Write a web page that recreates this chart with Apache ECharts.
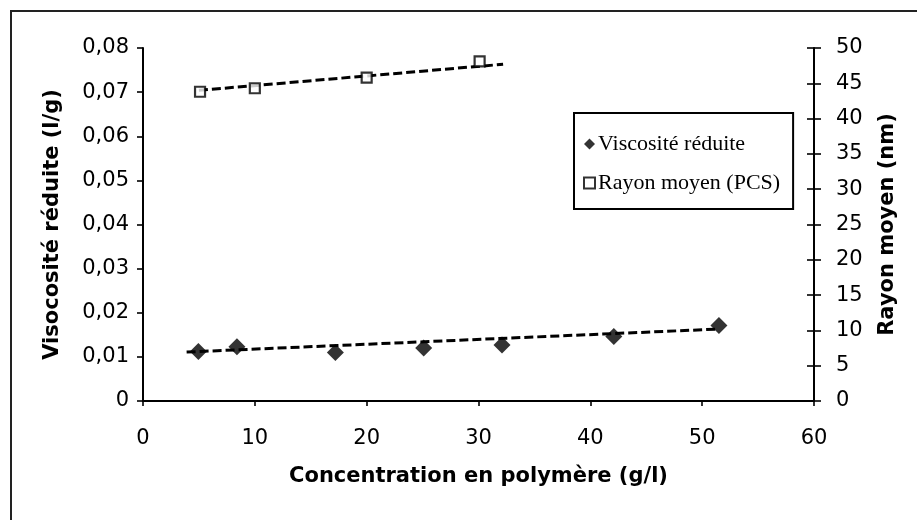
<!DOCTYPE html>
<html>
<head>
<meta charset="utf-8">
<script src="https://cdn.jsdelivr.net/npm/echarts@6/dist/echarts.min.js"></script>
<style>
  html, body { margin: 0; padding: 0; background: #fff; }
  #chart { width: 917px; height: 520px; }
</style>
</head>
<body>
<div id="chart"></div>
<script>
// Reduced viscosity vs polymer concentration
const concVisc = [4.95, 8.4, 17.2, 25.1, 32.1, 42.1, 51.5];
const viscRed  = [0.0112, 0.0123, 0.0110, 0.0120, 0.0127, 0.0146, 0.0171];

// Mean radius (PCS) vs polymer concentration
const concRayon = [5.1, 10.0, 20.0, 30.1];
const rayon     = [43.8, 44.3, 45.8, 48.1];

// Trend line end points
const trendViscX  = [3.9, 51.4];
const trendViscY  = [0.0111, 0.0163];
const trendRayonX = [5.0, 32.2];
const trendRayonY = [44.0, 47.7];

// Tick labels
const xTicks      = ['0', '10', '20', '30', '40', '50', '60'];
const yLeftTicks  = ['0', '0,01', '0,02', '0,03', '0,04', '0,05', '0,06', '0,07', '0,08'];
const yRightTicks = ['0', '5', '10', '15', '20', '25', '30', '35', '40', '45', '50'];

const names = {
  visc: 'Viscosité réduite',
  rayon: 'Rayon moyen (PCS)',
  xTitle: 'Concentration en polymère (g/l)',
  yLeftTitle: 'Visocosité réduite (l/g)',
  yRightTitle: 'Rayon moyen (nm)'
};

const pair = (xs, ys) => xs.map((x, i) => [x, ys[i]]);

const ink = '#000';
const sansFont = 'DejaVu Sans';
const tickLabel = { color: ink, fontFamily: sansFont, fontSize: 21 };
const titleStyle = { color: ink, fontFamily: sansFont, fontSize: 21, fontWeight: 'bold' };
const axisLine = { show: true, lineStyle: { color: ink, width: 2 } };
const tickLine = { color: ink, width: 1.6 };
const dashStyle = { color: ink, width: 3, type: [9, 4] };

const chart = echarts.init(document.getElementById('chart'), null, { renderer: 'canvas' });

chart.setOption({
  backgroundColor: '#fff',
  animation: false,
  grid: { left: 143, right: 103, top: 48, bottom: 119, containLabel: false },
  legend: {
    left: 574, top: 113,
    orient: 'vertical',
    data: [
      { name: names.visc, icon: 'diamond' },
      { name: names.rayon, icon: 'rect' }
    ],
    itemWidth: 11, itemHeight: 11, itemGap: 17,
    padding: [20, 13, 15, 9],
    borderColor: ink, borderWidth: 2,
    textStyle: { fontFamily: 'Liberation Serif', fontSize: 22, color: ink, padding: [0, 0, 0, -2] },
    selectedMode: false
  },
  xAxis: {
    type: 'value', min: 0, max: 60, interval: 10,
    name: names.xTitle, nameLocation: 'middle', nameGap: 65,
    nameTextStyle: titleStyle,
    axisLine: axisLine,
    axisTick: { show: true, length: 5, lineStyle: tickLine },
    axisLabel: Object.assign({ margin: 27, formatter: v => xTicks[Math.round(v / 10)] }, tickLabel),
    splitLine: { show: false }
  },
  yAxis: [
    {
      type: 'value', position: 'left', min: 0, max: 0.08, interval: 0.01,
      name: names.yLeftTitle, nameLocation: 'middle', nameGap: 80, nameRotate: 90,
      nameTextStyle: titleStyle,
      axisLine: axisLine,
      axisTick: { show: true, length: 6, lineStyle: tickLine },
      axisLabel: Object.assign({ margin: 14, formatter: v => yLeftTicks[Math.round(v / 0.01)] }, tickLabel),
      splitLine: { show: false }
    },
    {
      type: 'value', position: 'right', min: 0, max: 50, interval: 5,
      name: names.yRightTitle, nameLocation: 'middle', nameGap: 63, nameRotate: 90,
      nameTextStyle: titleStyle,
      axisLine: axisLine,
      axisTick: { show: true, length: 7, lineStyle: tickLine },
      axisLabel: Object.assign({ margin: 22, formatter: v => yRightTicks[Math.round(v / 5)] }, tickLabel),
      splitLine: { show: false }
    },
    {
      // inner half of the crossing ticks on the right axis
      type: 'value', position: 'right', min: 0, max: 50, interval: 5,
      axisLine: { show: false },
      axisTick: { show: true, inside: true, length: 7, lineStyle: tickLine },
      axisLabel: { show: false },
      splitLine: { show: false }
    }
  ],
  series: [
    {
      name: 'trendVisc', type: 'line', yAxisIndex: 0,
      data: pair(trendViscX, trendViscY),
      showSymbol: false, lineStyle: dashStyle, z: 2, silent: true
    },
    {
      name: 'trendRayon', type: 'line', yAxisIndex: 1,
      data: pair(trendRayonX, trendRayonY),
      showSymbol: false, lineStyle: dashStyle, z: 2, silent: true
    },
    {
      name: names.visc, type: 'scatter', yAxisIndex: 0,
      data: pair(concVisc, viscRed),
      symbol: 'diamond', symbolSize: [17, 17],
      itemStyle: { color: ink }, z: 5
    },
    {
      name: names.rayon, type: 'scatter', yAxisIndex: 1,
      data: pair(concRayon, rayon),
      symbol: 'rect', symbolSize: [10, 10],
      itemStyle: { color: '#fff', borderColor: ink, borderWidth: 2.2 }, z: 5
    }
  ],
  graphic: [
    { type: 'line', shape: { x1: 10, y1: 11, x2: 917, y2: 11 }, style: { stroke: '#222', lineWidth: 2 } },
    { type: 'line', shape: { x1: 11, y1: 10, x2: 11, y2: 520 }, style: { stroke: '#222', lineWidth: 2 } }
  ]
});
</script>
</body>
</html>
